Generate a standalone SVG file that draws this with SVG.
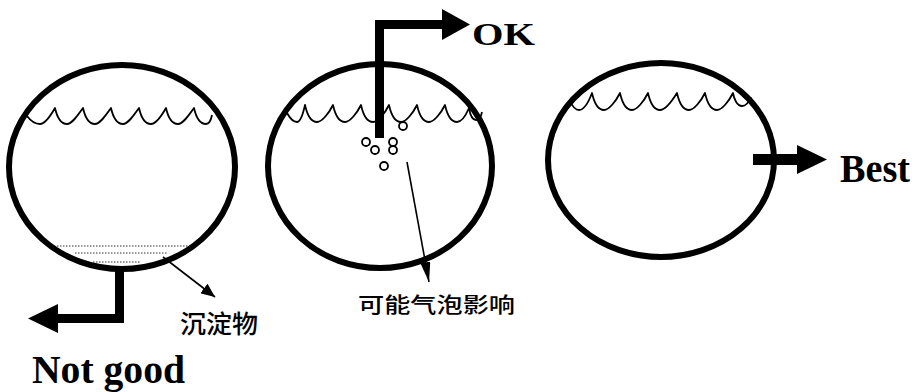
<svg xmlns="http://www.w3.org/2000/svg" width="912" height="392" viewBox="0 0 912 392">
<defs>
<style>
.tank{fill:none;stroke:#000;stroke-width:6}
.wave{fill:none;stroke:#000;stroke-width:1.8;stroke-linejoin:round}
.pipe{fill:#000}
.sed{stroke:#333;stroke-width:1;stroke-dasharray:1.5,1.5}
.bub{fill:#fff;stroke:#000;stroke-width:1.8}
.lead{stroke:#000;stroke-width:1.6;fill:none}
.en{font-family:"Liberation Serif","Times New Roman",serif;font-weight:bold;fill:#000}
.cn{font-family:"Noto Sans CJK SC","Noto Sans",sans-serif;font-weight:500;fill:#000}
</style>
<marker id="ah" viewBox="0 0 14 12" refX="14" refY="6" markerWidth="14" markerHeight="12" markerUnits="userSpaceOnUse" orient="auto">
<path d="M0,0 L14,6 L0,12 z" fill="#000"/>
</marker>
<marker id="ah2" viewBox="0 0 20 10" refX="20" refY="5" markerWidth="20" markerHeight="10" markerUnits="userSpaceOnUse" orient="auto">
<path d="M0,0 L20,5 L0,10 z" fill="#000"/>
</marker>
</defs>
<rect width="912" height="392" fill="#fff"/>

<g id="tank-left">
<ellipse class="tank" cx="122" cy="167" rx="113" ry="102"/>
<path class="wave" d="M27,116 Q33,124 40,124 c5,0 11,-9 15,-16 c2,9 5,16 12,16 c5,0 11,-9 16,-16 c2,9 5,16 12,16 c5,0 11,-9 16,-16 c2,9 5,16 12,16 c5,0 11,-9 16,-16 c2,9 5,16 12,16 c5,0 11,-9 15,-16 c2,9 5,16 12,16 c5,0 11,-9 16,-16 c2,9 5,16 12,16 c3,0 5,-4 6,-9"/>
<line class="sed" x1="57" y1="246" x2="190" y2="246"/>
<line class="sed" x1="75" y1="253" x2="168" y2="253"/>
<line class="sed" x1="93" y1="262" x2="140" y2="262"/>
</g>

<g id="tank-middle">
<ellipse class="tank" cx="380" cy="166" rx="112" ry="102"/>
<path class="wave" d="M287,113 Q292,122 297,122 c3,0 6,-8 8,-17 c2,9 5,17 12,17 c5,0 12,-9 16,-17 c2,9 5,17 12,17 c5,0 12,-9 16,-17 c2,9 5,17 12,17 c5,0 12,-9 16,-17 c2,9 5,17 12,17 c5,0 12,-9 16,-17 c2,9 5,17 12,17 c5,0 12,-9 16,-17 c2,9 5,17 12,17 c5,0 9,-7 12,-14 c1,6 3,12 7,12 c3,0 5,-3 6,-8"/>
<g id="bubbles">
<circle class="bub" cx="366" cy="142" r="4"/>
<circle class="bub" cx="375" cy="150" r="4"/>
<circle class="bub" cx="393" cy="142" r="4"/>
<circle class="bub" cx="393" cy="150" r="4"/>
<circle class="bub" cx="384" cy="166" r="4"/>
<circle class="bub" cx="403" cy="126" r="4"/>
</g>
</g>

<g id="tank-right">
<ellipse class="tank" cx="661" cy="160" rx="113" ry="97"/>
<path class="wave" d="M570,101 Q574,110 579,110 c5,0 10,-9 13,-17 c2,9 5,17 12,17 c5,0 12,-9 16,-17 c2,9 5,17 12,17 c5,0 12,-9 16,-17 c2,9 5,17 12,17 c5,0 12,-9 17,-17 c2,9 5,17 12,17 c5,0 12,-9 16,-17 c2,9 5,17 12,17 c5,0 12,-9 16,-17 c1,6 4,13 9,13 c4,0 7,-4 9,-9"/>
</g>

<g id="connectors">
<g id="outlet-bottom">
<rect class="pipe" x="115" y="266" width="9" height="57"/>
<rect class="pipe" x="56" y="314" width="68" height="9"/>
<polygon class="pipe" points="58,304 28,318.5 58,333"/>
</g>
<g id="outlet-top">
<rect class="pipe" x="375" y="20" width="9" height="118"/>
<rect class="pipe" x="375" y="20" width="69" height="9"/>
<polygon class="pipe" points="442,9 470,24.5 442,40"/>
</g>
<g id="outlet-side">
<rect class="pipe" x="753" y="154" width="46" height="11"/>
<polygon class="pipe" points="797,145 827,159.5 797,174"/>
</g>
<line class="lead" x1="163" y1="257" x2="215" y2="297" marker-end="url(#ah)"/>
<line class="lead" x1="407" y1="162" x2="429" y2="282" marker-end="url(#ah2)"/>
</g>

<g id="labels">
<text class="en" x="32" y="383" font-size="40" textLength="153" lengthAdjust="spacingAndGlyphs">Not good</text>
<text class="en" x="472" y="45" font-size="32" textLength="63" lengthAdjust="spacingAndGlyphs">OK</text>
<text class="en" x="840" y="182" font-size="39" textLength="70" lengthAdjust="spacingAndGlyphs">Best</text>
<text class="cn" x="180" y="333" font-size="25" textLength="78" lengthAdjust="spacingAndGlyphs">沉淀物</text>
<text class="cn" x="358" y="312" font-size="21" textLength="157" lengthAdjust="spacingAndGlyphs">可能气泡影响</text>
</g>
</svg>
